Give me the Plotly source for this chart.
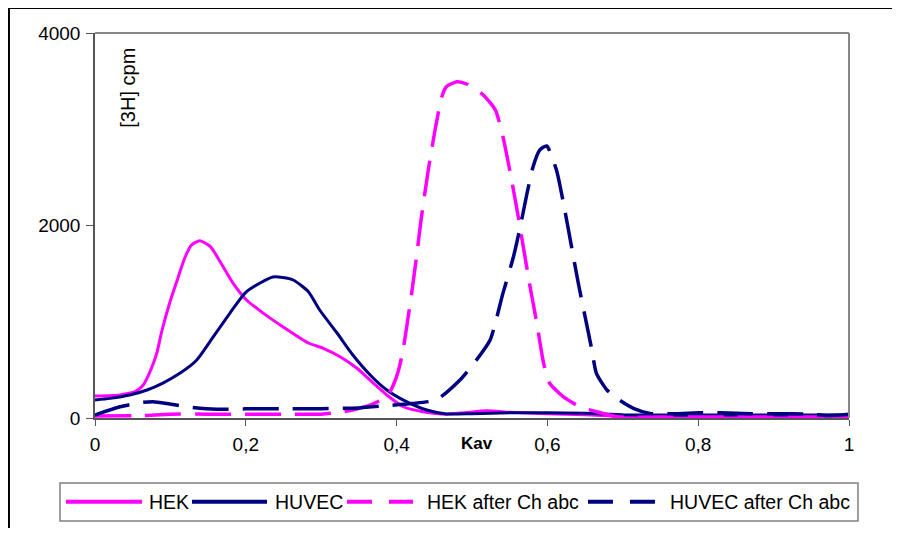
import plotly.graph_objects as go

# ---- data ----
hek_x = [0, 0.033, 0.053, 0.064, 0.073, 0.082, 0.088, 0.099, 0.110, 0.119, 0.128, 0.139,
         0.153, 0.166, 0.183, 0.201, 0.223, 0.249, 0.283, 0.302, 0.325, 0.347, 0.369,
         0.387, 0.409, 0.435, 0.466, 0.49, 0.52, 0.55, 0.6, 0.65, 0.7, 0.75, 0.8, 0.85,
         0.9, 0.95, 1.0]
hek_y = [229, 240, 273, 343, 481, 675, 883, 1195, 1455, 1662, 1797, 1842,
         1780, 1624, 1402, 1226, 1090, 949, 779, 727, 637, 519, 363,
         239, 117, 66, 40, 55, 75, 60, 45, 35, 15, 10, 10, 8,
         8, 8, 8]

huvec_x = [0, 0.02, 0.046, 0.069, 0.090, 0.113, 0.135, 0.157, 0.179, 0.199, 0.219, 0.236,
           0.249, 0.263, 0.283, 0.298, 0.321, 0.342, 0.365, 0.387, 0.413, 0.440, 0.466,
           0.5, 0.55, 0.6, 0.65, 0.7, 0.75, 0.8, 0.85, 0.9, 0.95, 1.0]
huvec_y = [187, 204, 239, 291, 363, 467, 603, 845, 1090, 1298, 1403, 1465,
           1460, 1434, 1312, 1122, 883, 655, 447, 291, 170, 83, 42,
           45, 55, 55, 50, 35, 30, 30, 30, 30, 30, 30]

hek_ch_x = [0, 0.06, 0.1, 0.15, 0.2, 0.25, 0.3, 0.33, 0.36, 0.387, 0.395, 0.402, 0.408,
            0.414, 0.420, 0.426, 0.433, 0.442, 0.451, 0.460, 0.466, 0.480, 0.493, 0.515,
            0.531, 0.541, 0.550, 0.559, 0.568, 0.577, 0.586, 0.595, 0.603, 0.621, 0.643,
            0.665, 0.692, 0.75, 0.8, 0.9, 1.0]
hek_ch_y = [20, 25, 40, 40, 40, 40, 40, 65, 120, 221, 330, 480, 680,
            980, 1300, 1650, 2091, 2577, 2992, 3338, 3442, 3494, 3470, 3356,
            3200, 2923, 2577, 2195, 1780, 1364, 984, 568, 361, 221, 117,
            66, 14, 10, 10, 10, 10]

huvec_ch_x = [0, 0.033, 0.060, 0.077, 0.099, 0.126, 0.161, 0.2, 0.25, 0.3, 0.35, 0.387,
              0.42, 0.453, 0.484, 0.506, 0.524, 0.541, 0.555, 0.564, 0.573, 0.581, 0.590,
              0.599, 0.612, 0.623, 0.632, 0.641, 0.650, 0.659, 0.665, 0.679, 0.692, 0.714,
              0.736, 0.77, 0.8, 0.83, 0.87, 0.9, 0.95, 0.97, 1.0]
huvec_ch_y = [31, 117, 159, 169, 145, 111, 90, 95, 97, 97, 105, 128,
              150, 190, 395, 603, 810, 1295, 1676, 1988, 2335, 2611, 2785,
              2826, 2577, 2161, 1780, 1400, 1053, 707, 464, 291, 204, 100,
              48, 45, 55, 55, 45, 45, 40, 25, 40]

x_tickvals = [0, 0.2, 0.4, 0.6, 0.8, 1.0]
x_ticktext = ["0", "0,2", "0,4", "0,6", "0,8", "1"]
y_tickvals = [0, 2000, 4000]
y_ticktext = ["0", "2000", "4000"]

series_names = ["HEK", "HUVEC", "HEK after Ch abc", "HUVEC after Ch abc"]

MAGENTA = "#FF00FF"
NAVY = "#000080"
FONT = "Liberation Sans, Arial, sans-serif"
DASH = "36px,14px"

fig = go.Figure()
specs = [
    (hek_x, hek_y, MAGENTA, "solid"),
    (huvec_x, huvec_y, NAVY, "solid"),
    (hek_ch_x, hek_ch_y, MAGENTA, DASH),
    (huvec_ch_x, huvec_ch_y, NAVY, DASH),
]
for name, (xs, ys, col, dash) in zip(series_names, specs):
    fig.add_trace(go.Scatter(
        x=xs, y=ys, mode="lines", name=name,
        line=dict(color=col, width=3 if dash == "solid" else 3.5, dash=dash,
                  shape="spline", smoothing=0.6),
        showlegend=False,
    ))

# page body has an 8px margin on every side, so the figure is 16px smaller
fig.update_layout(
    width=884, height=520,
    margin=dict(l=87, r=43, t=25, b=110),
    paper_bgcolor="white", plot_bgcolor="white",
    font=dict(family=FONT, size=19, color="black"),
    xaxis=dict(range=[0, 1], tickvals=x_tickvals, ticktext=x_ticktext,
               showgrid=False, zeroline=False, showline=True, linecolor="#555555",
               linewidth=1.5, ticks="outside", ticklen=6, tickcolor="#555555",
               ticklabelstandoff=2),
    yaxis=dict(range=[0, 4000], tickvals=y_tickvals, ticktext=y_ticktext,
               showgrid=False, zeroline=False, showline=True, linecolor="#555555",
               linewidth=1.5, ticks="outside", ticklen=7, tickcolor="#555555",
               ticklabelstandoff=2),
)

# plot-area border (top, right) in gray
fig.add_shape(type="line", xref="paper", yref="paper", x0=0, x1=1, y0=1, y1=1,
              line=dict(color="#888888", width=2))
fig.add_shape(type="line", xref="paper", yref="paper", x0=1, x1=1, y0=0, y1=1,
              line=dict(color="#888888", width=2))
# outer chart border (only top and left edges are visible); kept inside the figure
fig.add_shape(type="line", xref="paper", yref="paper", x0=-0.1141, x1=1.06,
              y0=1.0649, y1=1.0649, line=dict(color="black", width=2), layer="below")
fig.add_shape(type="line", xref="paper", yref="paper", x0=-0.1141, x1=-0.1141,
              y0=-0.286, y1=1.0649, line=dict(color="black", width=2), layer="below")

# axis titles
fig.add_annotation(text="[3H] cpm", xref="paper", yref="paper", x=0.0438, y=0.858,
                   xanchor="center", yanchor="middle",
                   textangle=-90, showarrow=False, font=dict(size=20))
fig.add_annotation(text="<b>Kav</b>", xref="paper", yref="paper", x=0.507, y=-0.065,
                   xanchor="center", yanchor="middle",
                   showarrow=False, font=dict(size=17))

# custom legend
fig.add_shape(type="rect", xref="paper", yref="paper", x0=-0.0464, x1=1.0119,
              y0=-0.2675, y1=-0.1688, line=dict(color="#808080", width=1.5))
leg_y = -0.2174
leg_items = [
    (-0.0385, 0.0623, 0.069, MAGENTA, "solid"),
    (0.1286, 0.2281, 0.2361, NAVY, "solid"),
    (0.3342, 0.4218, 0.4377, MAGENTA, "25px,17px"),
    (0.6538, 0.7427, 0.7599, NAVY, "25px,17px"),
]
for name, (lx0, lx1, tx, col, dash) in zip(series_names, leg_items):
    fig.add_shape(type="line", xref="paper", yref="paper", x0=lx0, x1=lx1,
                  y0=leg_y, y1=leg_y, line=dict(color=col, width=4, dash=dash))
    fig.add_annotation(text=name, xref="paper", yref="paper", x=tx, y=leg_y,
                       xanchor="left", yanchor="middle", showarrow=False,
                       font=dict(size=19.5))

fig.write_html("out.html")
